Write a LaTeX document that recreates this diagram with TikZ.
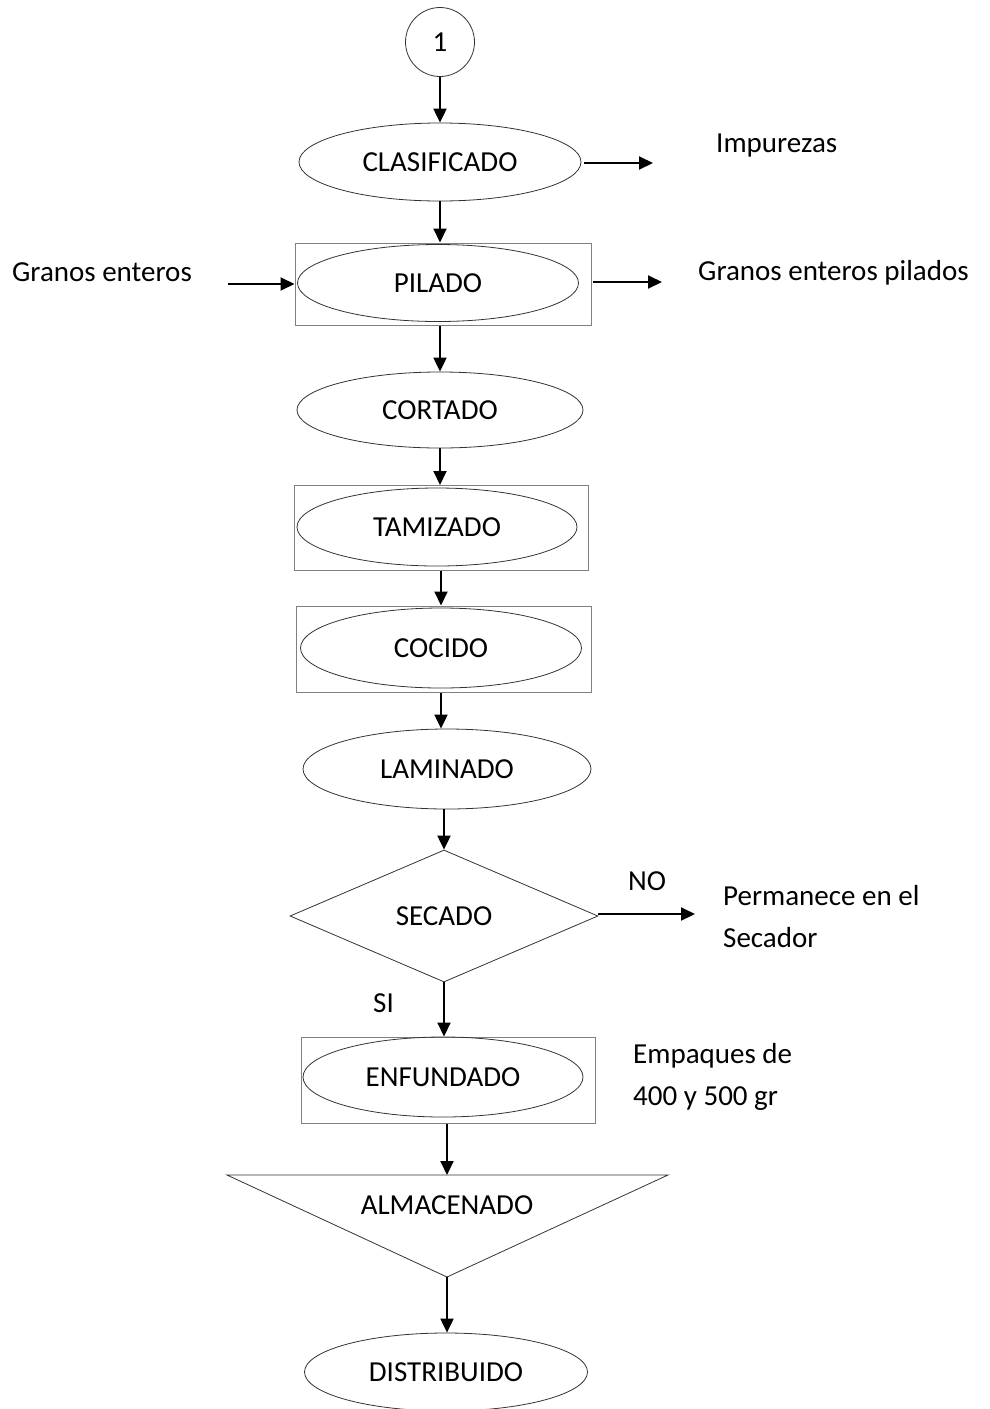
\documentclass[tikz,border=0pt]{standalone}
\usepackage{fontspec}
\setmainfont{Carlito}
\usetikzlibrary{shapes.geometric,arrows.meta}

\begin{document}
\begin{tikzpicture}[x=1pt,y=-1pt,
  every node/.style={font=\fontsize{29}{42}\selectfont},
  proc/.style={ellipse, draw=black!80, line width=0.8pt, minimum width=282pt, minimum height=78pt, inner sep=0pt},
  frame/.style={rectangle, draw=black!50, line width=1pt, inner sep=0pt},
  flow/.style={line width=2pt, -{Triangle[length=14pt,width=13pt]}},
  note/.style={anchor=base west, inner sep=0pt, align=left}
]
\useasboundingbox (0,0) rectangle (990,1409);

% connector
\node[circle, draw=black!80, line width=0.8pt, minimum size=69pt, inner sep=0pt] (uno) at (440,42) {1};

% process steps
\node[proc] (clas) at (440,162) {CLASIFICADO};

\node[frame, minimum width=296pt, minimum height=82pt] (pilbox) at (443,284) {};
\node[proc, minimum width=281pt, minimum height=77pt] (pil) at (438,283) {PILADO};

\node[proc, minimum width=286pt, minimum height=76pt] (cort) at (440,410) {CORTADO};

\node[frame, minimum width=294pt, minimum height=85pt] (tambox) at (441,528) {};
\node[proc, minimum width=280pt, minimum height=78pt] (tam) at (437,527) {TAMIZADO};

\node[frame, minimum width=295pt, minimum height=86pt] (cocbox) at (444,649) {};
\node[proc, minimum width=281pt, minimum height=80pt] (coc) at (441,648) {COCIDO};

\node[proc, minimum width=288pt, minimum height=80pt] (lam) at (447,769) {LAMINADO};

\node[diamond, draw=black!80, line width=0.8pt, minimum width=308pt, minimum height=132pt, inner sep=0pt] (sec) at (444,916) {SECADO};

\node[frame, minimum width=294pt, minimum height=86pt] (enfbox) at (448,1080) {};
\node[proc, minimum width=280pt, minimum height=80pt] (enf) at (443,1077) {ENFUNDADO};

% storage triangle
\coordinate (almtl) at (227,1175);
\coordinate (almtr) at (668,1175);
\coordinate (almbot) at (447,1277);
\coordinate (almtop) at (447,1175);
\draw[draw=black!80, line width=0.8pt] (almtl) -- (almtr) -- (almbot) -- cycle;
\node (alm) at (447,1205) {ALMACENADO};

\node[proc, minimum width=283pt, minimum height=78pt] (dist) at (446,1372) {DISTRIBUIDO};

% side texts (two-line notes are placed by the baseline of their last line)
\node[note] (gin) at (12,281) {Granos enteros};
\node[note] (imp) at (716,152) {Impurezas};
\node[note] (gpil) at (698,280) {Granos enteros pilados};
\node[note] (no) at (628,890) {NO};
\node[note] (si) at (373,1012) {SI};
\node[note] (perm) at (723,947) {Permanece en el\\Secador};
\node[note] (emp) at (633,1105) {Empaques de\\400 y 500 gr};

% free ends of side arrows
\coordinate (ginend) at (228,284);
\coordinate (impend) at (653,163);
\coordinate (gpilend) at (662,282);
\coordinate (noend) at (695,914);

% main flow
\draw[flow] (uno.south) -- (uno.south |- clas.north);
\draw[flow] (clas.south) -- (clas.south |- pilbox.north);
\draw[flow] (cort.north |- pilbox.south) -- (cort.north);
\draw[flow] (cort.south) -- (cort.south |- tambox.north);
\draw[flow] (tambox.south) -- (tambox.south |- cocbox.north);
\draw[flow] (coc.south |- cocbox.south) -- (coc.south |- lam.north);
\draw[flow] (sec.north |- lam.south) -- (sec.north);
\draw[flow] (sec.south) -- (sec.south |- enfbox.north);
\draw[flow] (almtop |- enfbox.south) -- (almtop);
\draw[flow] (almbot) -- (almbot |- dist.north);

% side flows
\draw[flow] (ginend) -- (ginend -| pilbox.west);
\draw[flow] ([xshift=3pt]clas.east |- impend) -- (impend);
\draw[flow] ([xshift=1pt]pilbox.east |- gpilend) -- (gpilend);
\draw[flow] (sec.east |- noend) -- (noend);
\end{tikzpicture}
\end{document}
